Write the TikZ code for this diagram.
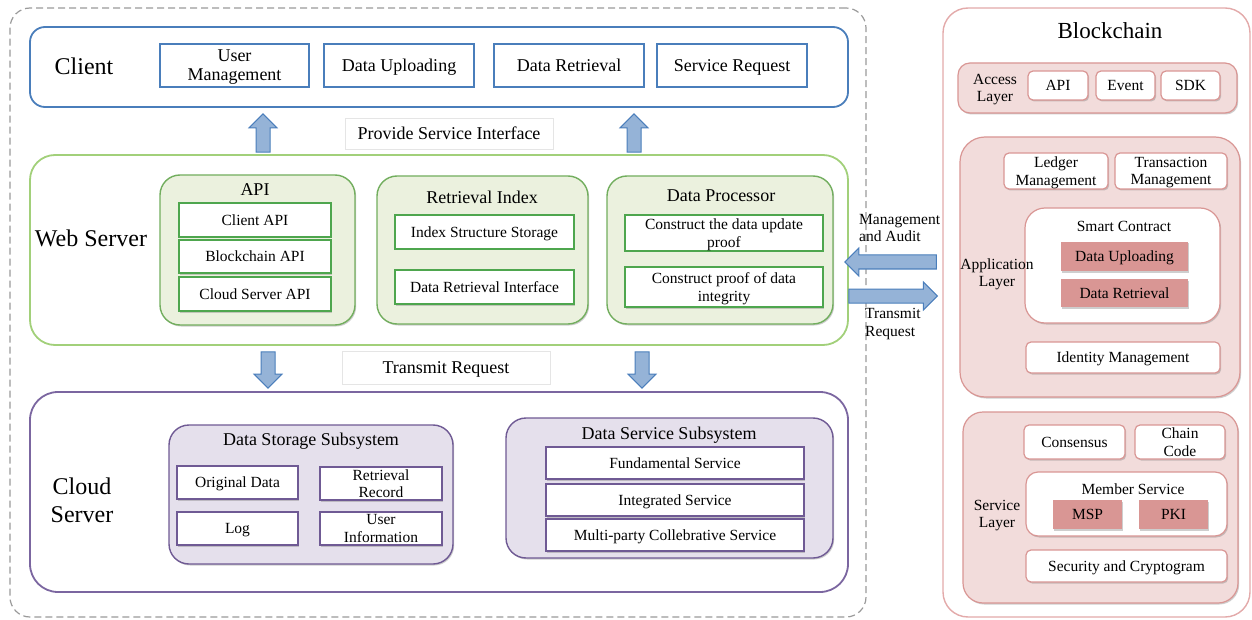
\documentclass[tikz,border=0pt]{standalone}
\usepackage{fontspec}
\setmainfont{Liberation Serif}
\usetikzlibrary{calc,shadows}

\definecolor{cliblue}{HTML}{4A7EBB}
\definecolor{arrfill}{HTML}{95B3D7}
\definecolor{webgreen}{HTML}{A2D07A}
\definecolor{modgreen}{HTML}{72AE5E}
\definecolor{modfill}{HTML}{EBF1DE}
\definecolor{itemgreen}{HTML}{4EA64E}
\definecolor{cloudpur}{HTML}{7B66A0}
\definecolor{purfill}{HTML}{E5E0EC}
\definecolor{itempur}{HTML}{6F5A94}
\definecolor{chainpink}{HTML}{E3AAAA}
\definecolor{pinkfill}{HTML}{F2DCDB}
\definecolor{pinkline}{HTML}{D99694}
\definecolor{pinkdark}{HTML}{D99694}
\definecolor{framegray}{HTML}{9A9A9A}

\newcommand\fsm{\fontsize{15.5}{17.5}\selectfont}
\newcommand\fmd{\fontsize{18}{20}\selectfont}
\newcommand\flg{\fontsize{24}{28}\selectfont}

% block arrow from tail #1 to tip #2
\newcommand\blockarrow[2]{%
  \path (#2) coordinate (ba-tip) (#1) coordinate (ba-tail);
  \path ($(ba-tip)!14pt!(ba-tail)$) coordinate (ba-base);
  \draw[blockarr] ($(ba-tail)!7pt!90:(ba-tip)$) -- ($(ba-base)!7pt!90:(ba-tip)$)
    -- ($(ba-base)!14pt!90:(ba-tip)$) -- (ba-tip) -- ($(ba-base)!14pt!-90:(ba-tip)$)
    -- ($(ba-base)!7pt!-90:(ba-tip)$) -- ($(ba-tail)!7pt!-90:(ba-tip)$) -- cycle;}

\begin{document}
\begin{tikzpicture}[x=1pt,y=-1pt,
  sz/.style 2 args={minimum width=#1, minimum height=#2},
  bx/.style={draw, inner sep=1pt, align=center, font=\fsm, text depth=0pt},
  shd/.style={drop shadow={shadow xshift=1.2pt, shadow yshift=-1.5pt, opacity=.35, fill=black!55}},
  outerdash/.style={draw=framegray, line width=1.2pt, dash pattern=on 7pt off 4pt, rounded corners=20},
  layer/.style={draw, line width=1.8pt, fill=white},
  biglbl/.style={font=\flg, align=center},
  ttl/.style={font=\fmd},
  clibox/.style={bx, draw=cliblue, line width=2pt, font=\fmd},
  lblbox/.style={draw=black!10, fill=white, font=\fmd, line width=.6pt, text depth=0pt},
  gmod/.style={draw=modgreen, fill=modfill, line width=1.4pt, rounded corners=20, shd},
  gitem/.style={bx, draw=itemgreen, fill=white, line width=1.4pt, shd},
  pmod/.style={draw=itempur, fill=purfill, line width=1.4pt, rounded corners=20, shd},
  pitem/.style={bx, draw=itempur, fill=white, line width=1.4pt, shd},
  kmod/.style={draw=pinkline, fill=pinkfill, line width=1.2pt, rounded corners=#1, shd},
  kitem/.style={bx, draw=pinkline, fill=white, line width=1.2pt, rounded corners=5, shd},
  kdark/.style={bx, draw=none, fill=pinkdark, shd},
  blockarr/.style={draw=cliblue, fill=arrfill, line width=1pt, line join=miter},
  sidelbl/.style={font=\fsm, align=left, inner sep=0pt}
]
\useasboundingbox (0,0) rectangle (1252,620);

% ---------------- off-chain part ----------------
\node[outerdash, sz={856}{609}] (frame) at (438,312.5) {};

% Client
\node[layer, draw=cliblue, sz={818}{80}, rounded corners=15] (client) at (439,67) {};
\node[biglbl] (clientl) at (84,66) {Client};
\node[clibox, sz={149}{43}] (cum) at (234.5,65.5) {User\\[-1pt]Management};
\node[clibox, sz={150}{43}] (cdu) at (399,65.5) {Data Uploading};
\node[clibox, sz={150}{43}] (cdr) at (569,65.5) {Data Retrieval};
\node[clibox, sz={150}{43}] (csr) at (732,65.5) {Service Request};

\node[lblbox, sz={208}{31}] (psi) at (449,133.5) {Provide Service Interface};

% Web Server
\node[layer, draw=webgreen, sz={818}{190}, rounded corners=25] (ws) at (439,250) {};
\node[biglbl] (wsl) at (91,238) {Web Server};

\node[gmod, sz={195}{150}] (api) at (257.5,250) {};
\node[ttl] (apit) at (255,190) {API};
\node[gitem, sz={152}{34}] (capi) at (255,220) {Client API};
\node[gitem, sz={152}{33}] (bapi) at (255,256.5) {Blockchain API};
\node[gitem, sz={152}{34}] (sapi) at (255,294) {Cloud Server API};

\node[gmod, sz={211}{148}] (ri) at (482.5,250) {};
\node[ttl] (rit) at (482,197) {Retrieval Index};
\node[gitem, sz={179}{34}] (iss) at (484.5,232) {Index Structure Storage};
\node[gitem, sz={179}{34}] (dri) at (484.5,287) {Data Retrieval Interface};

\node[gmod, sz={226}{148}] (dp) at (720,250) {};
\node[ttl] (dpt) at (721,196) {Data Processor};
\node[gitem, sz={198}{36}] (cup) at (724,233) {Construct the data update\\proof};
\node[gitem, sz={198}{40}] (cip) at (724,287) {Construct proof of data\\integrity};

\node[lblbox, sz={208}{33}] (trq) at (446,367.5) {Transmit Request};

% Cloud Server
\node[layer, draw=cloudpur, sz={818}{200}, rounded corners=28] (cloud) at (439,492) {};
\node[biglbl] (cloudl) at (82,500) {Cloud\\Server};

\node[pmod, sz={284}{139}] (dss) at (311,494.5) {};
\node[ttl] (dsst) at (311,441) {Data Storage Subsystem};
\node[pitem, sz={121}{33}] (od) at (237.5,482.5) {Original Data};
\node[pitem, sz={122}{33}] (rr) at (381,483.5) {Retrieval\\Record};
\node[pitem, sz={121}{33}] (lg) at (237.5,528.5) {Log};
\node[pitem, sz={122}{33}] (ui) at (381,528.5) {User\\Information};

\node[pmod, sz={327}{140}] (dsv) at (669.5,488) {};
\node[ttl] (dsvt) at (669,435) {Data Service Subsystem};
\node[pitem, sz={258}{32}] (fsv) at (675,463) {Fundamental Service};
\node[pitem, sz={258}{32}] (isv) at (675,500) {Integrated Service};
\node[pitem, sz={258}{32}] (msv) at (675,535) {Multi-party Collebrative Service};

% ---------------- Blockchain ----------------
\node[layer, draw=chainpink, line width=1.4pt, sz={307}{609}, rounded corners=25] (bc) at (1096.5,312.5) {};
\node[font=\fontsize{23}{26}\selectfont] (bct) at (1110,31) {Blockchain};

% Access layer
\node[kmod=12, sz={279}{50}] (al) at (1097.5,88) {};
\node[sidelbl, align=center] (all) at (995,89.5) {Access\\Layer};
\node[kitem, sz={60}{29}] (kapi) at (1058,85.5) {API};
\node[kitem, sz={59}{29}] (kev) at (1125.5,85.5) {Event};
\node[kitem, sz={59}{29}] (ksdk) at (1190.5,85.5) {SDK};

% Application layer
\node[kmod=25, sz={280}{260}] (apl) at (1100,267) {};
\node[kitem, sz={104}{36}] (lm) at (1056,171) {Ledger\\Management};
\node[kitem, sz={112}{36}] (tm) at (1171,171) {Transaction\\Management};
\node[kitem, rounded corners=20, sz={195}{115}] (sc) at (1122.5,265.5) {};
\node[font=\fsm] (sct) at (1124,226) {Smart Contract};
\node[kdark, sz={127}{29}] (sdu) at (1124.5,256.5) {Data Uploading};
\node[kdark, sz={127}{28}] (sdr) at (1124.5,293) {Data Retrieval};
\node[kitem, sz={194}{31}] (im) at (1123,357.5) {Identity Management};
\node[sidelbl, align=center] (apll) at (997,274.5) {Application\\Layer};

% Service layer
\node[kmod=20, sz={275}{191}] (sl) at (1100.5,507.5) {};
\node[sidelbl, align=center] (sll) at (997,515.5) {Service\\Layer};
\node[kitem, sz={101}{34}] (con) at (1074.5,442) {Consensus};
\node[kitem, sz={90}{34}] (cc) at (1180,442) {Chain\\Code};
\node[kitem, rounded corners=12, sz={201}{64}] (ms) at (1126.5,504) {};
\node[font=\fsm] (mst) at (1133,489) {Member Service};
\node[kdark, sz={69}{29}] (msp) at (1087.5,514.5) {MSP};
\node[kdark, sz={69}{29}] (pki) at (1173.5,514.5) {PKI};
\node[kitem, sz={201}{32}] (sec) at (1126.5,566) {Security and Cryptogram};

% ---------------- block arrows ----------------
\coordinate (xa) at (263,0);
\coordinate (xb) at (634,0);
\coordinate (xc) at (268,0);
\coordinate (xd) at (642,0);
\coordinate (ya) at (0,262);
\coordinate (yb) at (0,296);

\path (xa |- ws.north) coordinate (a1s) (xa |- client.south) coordinate (a1e);
\path (xb |- ws.north) coordinate (a2s) (xb |- client.south) coordinate (a2e);
\path (xc |- ws.south) coordinate (a3s) (xc |- cloud.north) coordinate (a3e);
\path (xd |- ws.south) coordinate (a4s) (xd |- cloud.north) coordinate (a4e);
\path (bc.west |- ya) coordinate (a5s) (ws.east |- ya) coordinate (a5e);
\path (ws.east |- yb) coordinate (a6s) (bc.west |- yb) coordinate (a6e);

\blockarrow{[yshift=2pt]a1s}{[yshift=-6pt]a1e}
\blockarrow{[yshift=2pt]a2s}{[yshift=-6pt]a2e}
\blockarrow{[yshift=-6pt]a3s}{[yshift=3pt]a3e}
\blockarrow{[yshift=-6pt]a4s}{[yshift=3pt]a4e}
\blockarrow{[xshift=-6pt]a5s}{[xshift=-4pt]a5e}
\blockarrow{a6s}{[xshift=-5pt]a6e}

\node[sidelbl, anchor=west] (mal) at (859,228) {Management\\and Audit};
\node[sidelbl, anchor=west] (trl) at (865,324) {Transmit\\Request};
\end{tikzpicture}
\end{document}
